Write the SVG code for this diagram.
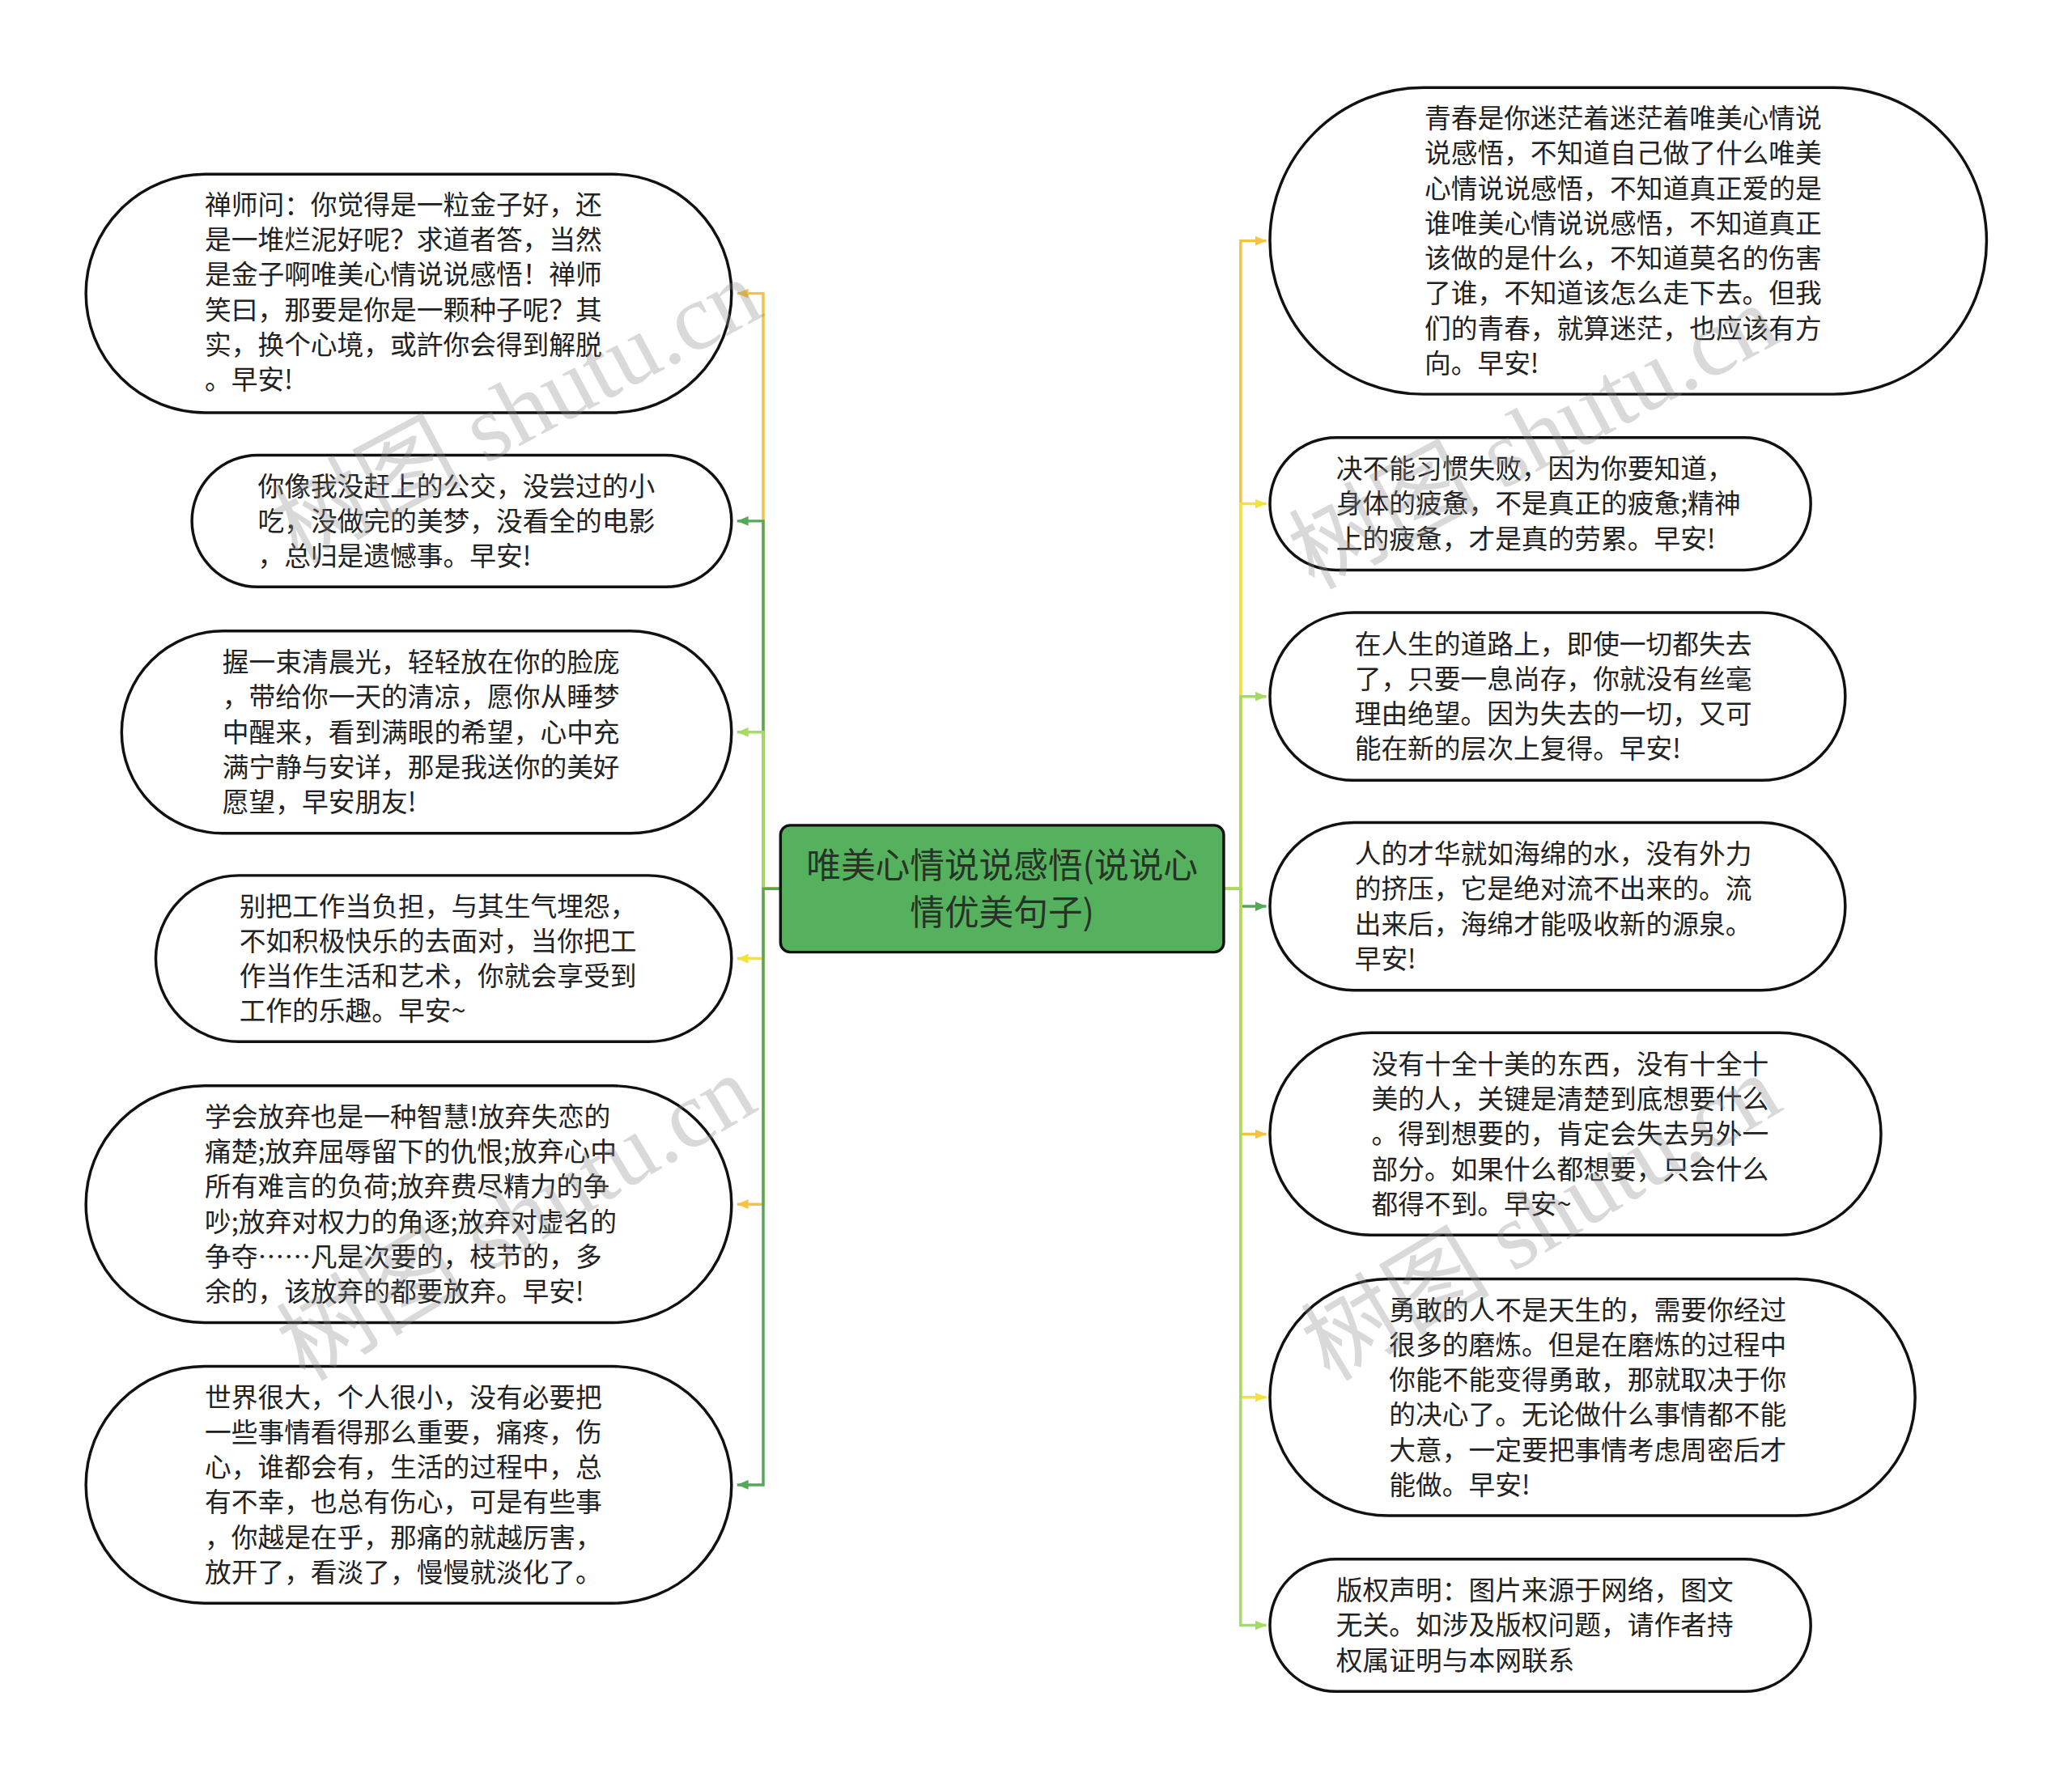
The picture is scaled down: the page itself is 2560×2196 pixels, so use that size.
<svg xmlns="http://www.w3.org/2000/svg" width="2560" height="2196" viewBox="0 0 2560 2196">
<style>
.node{fill:#ffffff;stroke:#111111;stroke-width:3.5}
.root{fill:#55B15D;stroke:#111111;stroke-width:3.5}
.t{font-family:"Noto Sans CJK SC","Noto Sans",sans-serif;font-size:33px;fill:#222222}
.rt{font-family:"Noto Sans CJK SC","Noto Sans",sans-serif;font-size:43px;fill:#263326;text-anchor:middle}
.c{fill:none;stroke-width:3.5}
.or{stroke:#F5C244}.gr{stroke:#55A85A}.lg{stroke:#A6DB63}.ye{stroke:#F2E23A}
.wm{font-family:"Liberation Serif","Noto Sans CJK SC",serif;font-size:118px;fill:#8a8a8a;opacity:0.32}
</style>
<defs>
<marker id="a-or" markerUnits="userSpaceOnUse" markerWidth="14" markerHeight="12" refX="14" refY="6" orient="auto"><path d="M0,0 L14,6 L0,12 z" fill="#F5C244"/></marker>
<marker id="a-gr" markerUnits="userSpaceOnUse" markerWidth="14" markerHeight="12" refX="14" refY="6" orient="auto"><path d="M0,0 L14,6 L0,12 z" fill="#55A85A"/></marker>
<marker id="a-lg" markerUnits="userSpaceOnUse" markerWidth="14" markerHeight="12" refX="14" refY="6" orient="auto"><path d="M0,0 L14,6 L0,12 z" fill="#A6DB63"/></marker>
<marker id="a-ye" markerUnits="userSpaceOnUse" markerWidth="14" markerHeight="12" refX="14" refY="6" orient="auto"><path d="M0,0 L14,6 L0,12 z" fill="#F2E23A"/></marker>
</defs>
<rect width="2560" height="2196" fill="#ffffff"/>
<g transform="scale(0.9921)">
<g id="connectors">
<path class="c or" d="M972 1107 H950.5 V365.5 H918" marker-end="url(#a-or)"/>
<path class="c gr" d="M972 1107 H950.5 V649 H918" marker-end="url(#a-gr)"/>
<path class="c lg" d="M972 1107 H950.5 V912 H918" marker-end="url(#a-lg)"/>
<path class="c ye" d="M972 1107 H950.5 V1194 H918" marker-end="url(#a-ye)"/>
<path class="c or" d="M972 1107 H950.5 V1500 H918" marker-end="url(#a-or)"/>
<path class="c gr" d="M972 1107 H950.5 V1849.5 H918" marker-end="url(#a-gr)"/>
<path class="c or" d="M1524 1107 H1545 V300 H1577" marker-end="url(#a-or)"/>
<path class="c ye" d="M1524 1107 H1545 V627.5 H1577" marker-end="url(#a-ye)"/>
<path class="c lg" d="M1524 1107 H1545 V867.5 H1577" marker-end="url(#a-lg)"/>
<path class="c gr" d="M1524 1107 H1545 V1129 H1577" marker-end="url(#a-gr)"/>
<path class="c or" d="M1524 1107 H1545 V1412.7 H1577" marker-end="url(#a-or)"/>
<path class="c ye" d="M1524 1107 H1545 V1740.5 H1577" marker-end="url(#a-ye)"/>
<path class="c lg" d="M1524 1107 H1545 V2024.5 H1577" marker-end="url(#a-lg)"/>
</g>
<g id="root">
<rect class="root" x="972" y="1028" width="552" height="158" rx="12"/>
<text class="rt"><tspan x="1248" y="1094">唯美心情说说感悟(说说心</tspan><tspan x="1248" y="1152">情优美句子)</tspan></text>
</g>
<g id="n-l1">
<rect class="node" x="107" y="217" width="804" height="297" rx="148.5"/>
<text class="t"><tspan x="255" y="267">禅师问：你觉得是一粒金子好，还</tspan><tspan x="255" dy="43.6">是一堆烂泥好呢？求道者答，当然</tspan><tspan x="255" dy="43.6">是金子啊唯美心情说说感悟！禅师</tspan><tspan x="255" dy="43.6">笑曰，那要是你是一颗种子呢？其</tspan><tspan x="255" dy="43.6">实，换个心境，或許你会得到解脱</tspan><tspan x="255" dy="43.6">。早安!</tspan></text>
</g>
<g id="n-l2">
<rect class="node" x="239" y="567" width="672" height="164" rx="82"/>
<text class="t"><tspan x="321" y="617.4">你像我没赶上的公交，没尝过的小</tspan><tspan x="321" dy="43.6">吃，没做完的美梦，没看全的电影</tspan><tspan x="321" dy="43.6">，总归是遗憾事。早安!</tspan></text>
</g>
<g id="n-l3">
<rect class="node" x="151.5" y="786" width="759.5" height="252" rx="126"/>
<text class="t"><tspan x="277" y="836.8">握一束清晨光，轻轻放在你的脸庞</tspan><tspan x="277" dy="43.6">，带给你一天的清凉，愿你从睡梦</tspan><tspan x="277" dy="43.6">中醒来，看到满眼的希望，心中充</tspan><tspan x="277" dy="43.6">满宁静与安详，那是我送你的美好</tspan><tspan x="277" dy="43.6">愿望，早安朋友!</tspan></text>
</g>
<g id="n-l4">
<rect class="node" x="194" y="1090.5" width="717" height="207" rx="103.5"/>
<text class="t"><tspan x="298" y="1140.6">别把工作当负担，与其生气埋怨，</tspan><tspan x="298" dy="43.6">不如积极快乐的去面对，当你把工</tspan><tspan x="298" dy="43.6">作当作生活和艺术，你就会享受到</tspan><tspan x="298" dy="43.6">工作的乐趣。早安~</tspan></text>
</g>
<g id="n-l5">
<rect class="node" x="107" y="1352.5" width="804" height="295" rx="147.5"/>
<text class="t"><tspan x="255" y="1403">学会放弃也是一种智慧!放弃失恋的</tspan><tspan x="255" dy="43.6">痛楚;放弃屈辱留下的仇恨;放弃心中</tspan><tspan x="255" dy="43.6">所有难言的负荷;放弃费尽精力的争</tspan><tspan x="255" dy="43.6">吵;放弃对权力的角逐;放弃对虚名的</tspan><tspan x="255" dy="43.6">争夺……凡是次要的，枝节的，多</tspan><tspan x="255" dy="43.6">余的，该放弃的都要放弃。早安!</tspan></text>
</g>
<g id="n-l6">
<rect class="node" x="107" y="1702" width="804" height="295" rx="147.5"/>
<text class="t"><tspan x="255" y="1752.5">世界很大，个人很小，没有必要把</tspan><tspan x="255" dy="43.6">一些事情看得那么重要，痛疼，伤</tspan><tspan x="255" dy="43.6">心，谁都会有，生活的过程中，总</tspan><tspan x="255" dy="43.6">有不幸，也总有伤心，可是有些事</tspan><tspan x="255" dy="43.6">，你越是在乎，那痛的就越厉害，</tspan><tspan x="255" dy="43.6">放开了，看淡了，慢慢就淡化了。</tspan></text>
</g>
<g id="n-r1">
<rect class="node" x="1581.5" y="109" width="892.5" height="382" rx="191"/>
<text class="t"><tspan x="1774" y="159.4">青春是你迷茫着迷茫着唯美心情说</tspan><tspan x="1774" dy="43.6">说感悟，不知道自己做了什么唯美</tspan><tspan x="1774" dy="43.6">心情说说感悟，不知道真正爱的是</tspan><tspan x="1774" dy="43.6">谁唯美心情说说感悟，不知道真正</tspan><tspan x="1774" dy="43.6">该做的是什么，不知道莫名的伤害</tspan><tspan x="1774" dy="43.6">了谁，不知道该怎么走下去。但我</tspan><tspan x="1774" dy="43.6">们的青春，就算迷茫，也应该有方</tspan><tspan x="1774" dy="43.6">向。早安!</tspan></text>
</g>
<g id="n-r2">
<rect class="node" x="1581.5" y="545" width="673.5" height="165" rx="82.5"/>
<text class="t"><tspan x="1664" y="595.9">决不能习惯失败，因为你要知道，</tspan><tspan x="1664" dy="43.6">身体的疲惫，不是真正的疲惫;精神</tspan><tspan x="1664" dy="43.6">上的疲惫，才是真的劳累。早安!</tspan></text>
</g>
<g id="n-r3">
<rect class="node" x="1581.5" y="763" width="716.5" height="209" rx="104.5"/>
<text class="t"><tspan x="1687" y="814.1">在人生的道路上，即使一切都失去</tspan><tspan x="1687" dy="43.6">了，只要一息尚存，你就没有丝毫</tspan><tspan x="1687" dy="43.6">理由绝望。因为失去的一切，又可</tspan><tspan x="1687" dy="43.6">能在新的层次上复得。早安!</tspan></text>
</g>
<g id="n-r4">
<rect class="node" x="1581.5" y="1024.5" width="716.5" height="209" rx="104.5"/>
<text class="t"><tspan x="1687" y="1075.6">人的才华就如海绵的水，没有外力</tspan><tspan x="1687" dy="43.6">的挤压，它是绝对流不出来的。流</tspan><tspan x="1687" dy="43.6">出来后，海绵才能吸收新的源泉。</tspan><tspan x="1687" dy="43.6">早安!</tspan></text>
</g>
<g id="n-r5">
<rect class="node" x="1581.5" y="1286.5" width="761" height="252" rx="126"/>
<text class="t"><tspan x="1708" y="1337.5">没有十全十美的东西，没有十全十</tspan><tspan x="1708" dy="43.6">美的人，关键是清楚到底想要什么</tspan><tspan x="1708" dy="43.6">。得到想要的，肯定会失去另外一</tspan><tspan x="1708" dy="43.6">部分。如果什么都想要，只会什么</tspan><tspan x="1708" dy="43.6">都得不到。早安~</tspan></text>
</g>
<g id="n-r6">
<rect class="node" x="1581.5" y="1593" width="803.5" height="295" rx="147.5"/>
<text class="t"><tspan x="1730" y="1643.5">勇敢的人不是天生的，需要你经过</tspan><tspan x="1730" dy="43.6">很多的磨炼。但是在磨炼的过程中</tspan><tspan x="1730" dy="43.6">你能不能变得勇敢，那就取决于你</tspan><tspan x="1730" dy="43.6">的决心了。无论做什么事情都不能</tspan><tspan x="1730" dy="43.6">大意，一定要把事情考虑周密后才</tspan><tspan x="1730" dy="43.6">能做。早安!</tspan></text>
</g>
<g id="n-r7">
<rect class="node" x="1581.5" y="1942" width="673.5" height="165" rx="82.5"/>
<text class="t"><tspan x="1664" y="1992.9">版权声明：图片来源于网络，图文</tspan><tspan x="1664" dy="43.6">无关。如涉及版权问题，请作者持</tspan><tspan x="1664" dy="43.6">权属证明与本网联系</tspan></text>
</g>
<g id="watermarks">
<text class="wm" transform="translate(370 703) rotate(-28)">树图 shutu.cn</text>
<text class="wm" transform="translate(380 1722) rotate(-31)">树图 shutu.cn</text>
<text class="wm" transform="translate(1636 735) rotate(-28)">树图 shutu.cn</text>
<text class="wm" transform="translate(1656 1722) rotate(-31)">树图 shutu.cn</text>
</g>
</g>
</svg>
